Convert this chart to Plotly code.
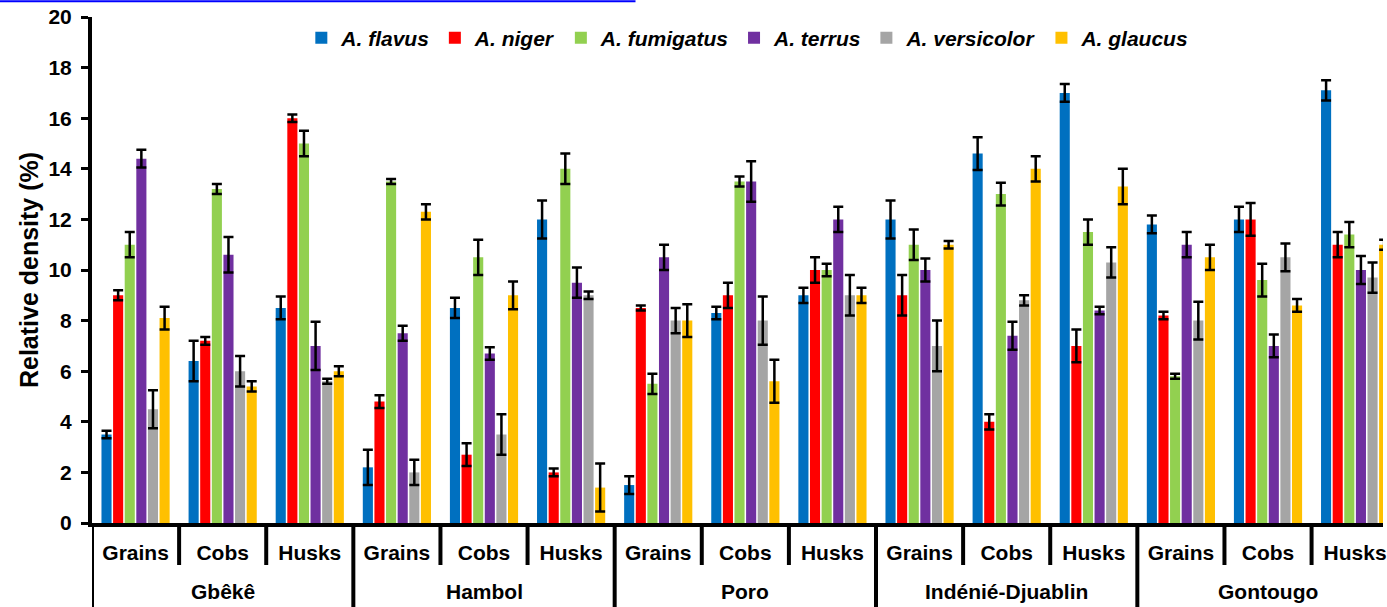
import plotly.graph_objects as go

regions = ["Gbêkê", "Hambol", "Poro", "Indénié-Djuablin", "Gontougo"]
types = ["Grains", "Cobs", "Husks"]

series_names = ["A. flavus", "A. niger", "A. fumigatus", "A. terrus", "A. versicolor", "A. glaucus"]
series_colors = ["#0070C0", "#FF0000", "#92D050", "#7030A0", "#A5A5A5", "#FFC000"]

flavus = [3.5, 6.4, 8.5, 2.2, 8.5, 12.0, 1.5, 8.3, 9.0, 12.0, 14.6, 17.0, 11.8, 12.0, 17.1]
flavus_err = [0.15, 0.8, 0.45, 0.7, 0.4, 0.75, 0.35, 0.25, 0.3, 0.75, 0.65, 0.35, 0.35, 0.5, 0.4]
niger = [9.0, 7.2, 16.0, 4.8, 2.7, 2.0, 8.5, 9.0, 10.0, 9.0, 4.0, 7.0, 8.2, 12.0, 11.0]
niger_err = [0.2, 0.15, 0.15, 0.25, 0.45, 0.15, 0.1, 0.5, 0.5, 0.8, 0.3, 0.65, 0.15, 0.65, 0.5]
fumigatus = [11.0, 13.2, 15.0, 13.5, 10.5, 14.0, 5.5, 13.5, 10.0, 11.0, 13.0, 11.5, 5.8, 9.6, 11.4]
fumigatus_err = [0.5, 0.2, 0.5, 0.1, 0.7, 0.6, 0.4, 0.2, 0.25, 0.6, 0.45, 0.5, 0.1, 0.65, 0.5]
terrus = [14.4, 10.6, 7.0, 7.5, 6.7, 9.5, 10.5, 13.5, 12.0, 10.0, 7.4, 8.4, 11.0, 7.0, 10.0]
terrus_err = [0.35, 0.7, 0.95, 0.3, 0.25, 0.6, 0.5, 0.8, 0.5, 0.45, 0.55, 0.15, 0.5, 0.45, 0.55]
versicolor = [4.5, 6.0, 5.6, 2.0, 3.5, 9.0, 8.0, 8.0, 9.0, 7.0, 8.8, 10.3, 8.0, 10.5, 9.7]
versicolor_err = [0.75, 0.6, 0.1, 0.5, 0.8, 0.15, 0.5, 0.95, 0.8, 1.0, 0.2, 0.6, 0.75, 0.55, 0.6]
glaucus = [8.1, 5.4, 6.0, 12.3, 9.0, 1.4, 8.0, 5.6, 9.0, 11.0, 14.0, 13.3, 10.5, 8.6, 11.0]
glaucus_err = [0.45, 0.2, 0.2, 0.3, 0.55, 0.95, 0.65, 0.85, 0.3, 0.15, 0.5, 0.7, 0.5, 0.25, 0.2]

y_ticks = [0, 2, 4, 6, 8, 10, 12, 14, 16, 18, 20]

values = [flavus, niger, fumigatus, terrus, versicolor, glaucus]
errors = [flavus_err, niger_err, fumigatus_err, terrus_err, versicolor_err, glaucus_err]

n_groups = len(regions) * len(types)
xpos = list(range(n_groups))
group_labels = [t for r in regions for t in types]

FONT = "Liberation Sans, Arial, sans-serif"

fig = go.Figure()
for name, color, v, e in zip(series_names, series_colors, values, errors):
    fig.add_trace(go.Bar(
        x=xpos, y=v, name=name,
        marker=dict(color=color, line=dict(width=0)),
        error_y=dict(type="data", array=e, visible=True, color="black",
                     thickness=2.5, width=5),
    ))

shapes = []
# separators below the axis
for k in range(n_groups + 1):
    b = k - 0.5
    long_sep = (k % len(types) == 0)
    shapes.append(dict(type="line", xref="x", yref="paper",
                       x0=b, x1=b, y0=0, y1=-0.172 if long_sep else -0.083,
                       line=dict(color="black", width=4)))
# artifact line at the top of the picture
shapes.append(dict(type="line", xref="paper", yref="paper",
                   x0=-0.072, x1=0.421, y0=1.031, y1=1.031,
                   line=dict(color="#0000FF", width=2)))

annotations = []
for i, r in enumerate(regions):
    annotations.append(dict(
        x=i * len(types) + 1, xref="x", y=-0.136, yref="paper",
        text=r, showarrow=False, xanchor="center", yanchor="middle",
        font=dict(family=FONT, size=21, color="black", weight="bold"),
    ))

fig.update_layout(
    width=1387, height=607,
    margin=dict(l=92, r=0, t=17, b=84),
    paper_bgcolor="white", plot_bgcolor="white",
    barmode="group", bargap=0.2, bargroupgap=0.13,
    font=dict(family=FONT, color="black"),
    showlegend=True,
    legend=dict(orientation="h", x=0.508, xanchor="center", y=0.9585, yanchor="middle",
                font=dict(family=FONT, size=21, color="black", weight="bold", style="italic"),
                bgcolor="rgba(0,0,0,0)", itemwidth=30, traceorder="normal"),
    xaxis=dict(range=[-0.5, 14.32], tickvals=xpos, ticktext=group_labels,
               showline=True, linewidth=4, linecolor="black", ticks="",
               showgrid=False, zeroline=False, ticklabelstandoff=8,
               ticklabeloverflow="allow",
               tickfont=dict(family=FONT, size=21, color="black", weight="bold")),
    yaxis=dict(range=[0, 20], tickvals=y_ticks, showline=True, linewidth=4,
               linecolor="black", ticks="outside", ticklen=7, tickwidth=3,
               tickcolor="black", showgrid=False, zeroline=False,
               ticklabelstandoff=5,
               tickfont=dict(family=FONT, size=21, color="black", weight="bold"),
               title=dict(text="Relative density (%)", standoff=4,
                          font=dict(family=FONT, size=25, color="black", weight="bold"))),
    shapes=shapes,
    annotations=annotations,
)

fig.write_html("out.html", config={"displayModeBar": False},
               post_script="document.body.style.margin='0';")
